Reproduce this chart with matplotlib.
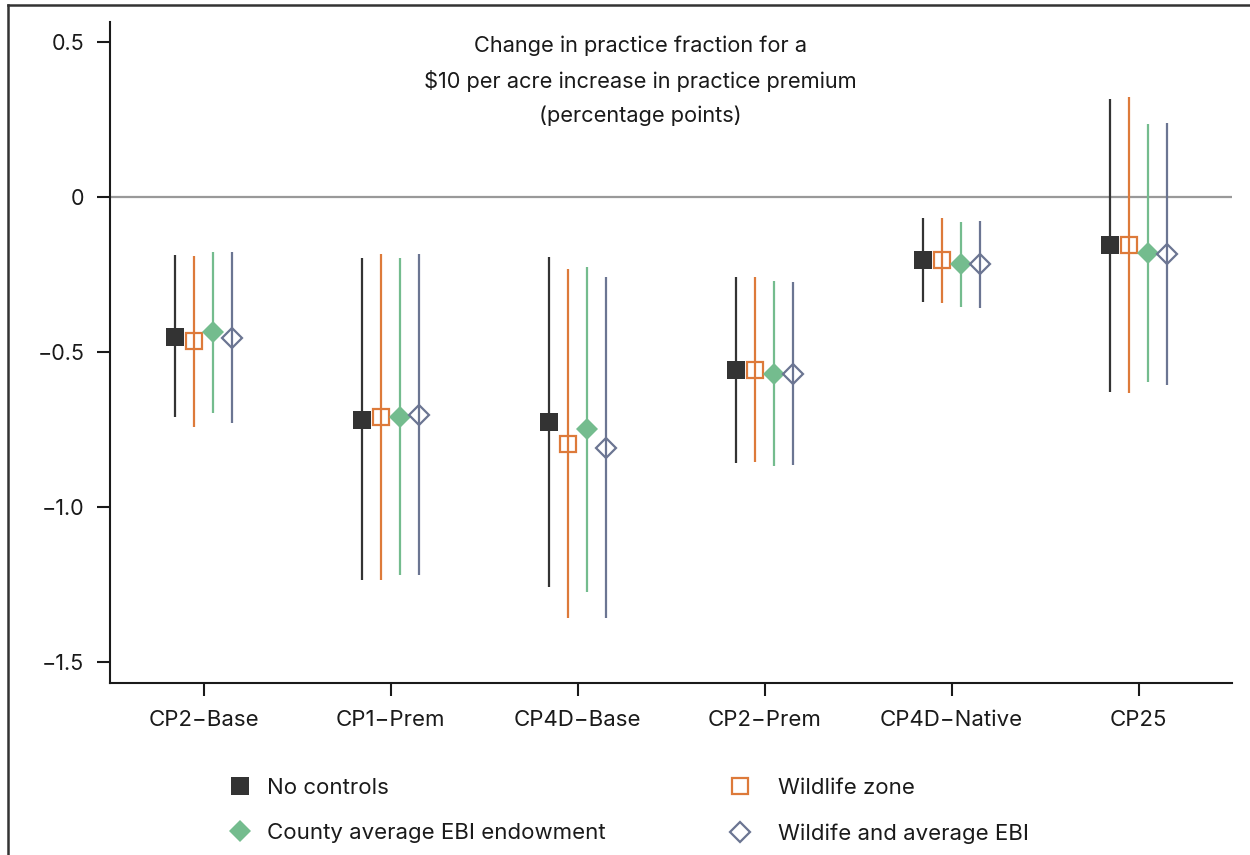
import matplotlib
matplotlib.use("Agg")
from matplotlib import pyplot as plt
from matplotlib.lines import Line2D
import numpy as np

plt.rcParams['font.family'] = ['Inter', 'DejaVu Sans']

categories = ["CP2\u2212Base", "CP1\u2212Prem", "CP4D\u2212Base", "CP2\u2212Prem", "CP4D\u2212Native", "CP25"]

# point estimates and interval ends per specification
no_ctrl_est = [-0.450, -0.719, -0.726, -0.558, -0.203, -0.155]
no_ctrl_lo = [-0.711, -1.235, -1.257, -0.859, -0.340, -0.629]
no_ctrl_hi = [-0.188, -0.197, -0.195, -0.257, -0.069, 0.317]

wild_est = [-0.466, -0.710, -0.797, -0.558, -0.203, -0.155]
wild_lo = [-0.742, -1.235, -1.359, -0.856, -0.343, -0.633]
wild_hi = [-0.190, -0.184, -0.233, -0.259, -0.066, 0.324]

county_est = [-0.437, -0.709, -0.750, -0.571, -0.217, -0.182]
county_lo = [-0.698, -1.221, -1.273, -0.868, -0.354, -0.597]
county_hi = [-0.177, -0.197, -0.227, -0.271, -0.082, 0.235]

both_est = [-0.454, -0.702, -0.810, -0.571, -0.217, -0.185]
both_lo = [-0.728, -1.221, -1.359, -0.866, -0.359, -0.607]
both_hi = [-0.177, -0.183, -0.258, -0.273, -0.076, 0.238]

y_ticks = [0.5, 0, -0.5, -1.0, -1.5]
y_ticklabels = ["0.5", "0", "\u22120.5", "\u22121.0", "\u22121.5"]

series = [
    # label, est, lo, hi, offset, marker, size, color, filled
    ("No controls", no_ctrl_est, no_ctrl_lo, no_ctrl_hi, -0.15, 's', 13, '#333333', True),
    ("Wildlife zone", wild_est, wild_lo, wild_hi, -0.05, 's', 11, '#DD7A3A', False),
    ("County average EBI endowment", county_est, county_lo, county_hi, 0.05, 'D', 11.5, '#74BC8E', True),
    ("Wildife and average EBI", both_est, both_lo, both_hi, 0.15, 'D', 10.5, '#6B7592', False),
]

fig = plt.figure(figsize=(12.5, 8.55), dpi=100)
ax = fig.add_axes([0.088, 0.2012, 0.8976, 0.7731])

x = np.arange(1, len(categories) + 1)
ax.axhline(0, color='#999999', lw=1.6, zorder=1)

handles = {}
for label, est, lo, hi, off, mk, ms, col, filled in series:
    est = np.array(est)
    yerr = [est - np.array(lo), np.array(hi) - est]
    ax.errorbar(x + off, est, yerr=yerr, fmt=mk, ms=ms, color=col, ecolor=col,
                elinewidth=1.6, capsize=0,
                mfc=col if filled else 'none', mec=col,
                mew=0 if filled else 1.6, zorder=3)
    handles[label] = Line2D([], [], ls='none', marker=mk, ms=ms, color=col,
                            mfc=col if filled else 'none', mec=col,
                            mew=0 if filled else 1.6)

ax.set_xlim(0.5, 6.5)
ax.set_ylim(-1.568, 0.565)
ax.set_xticks(x)
ax.set_xticklabels(categories, fontsize=16)
ax.set_yticks(y_ticks)
ax.set_yticklabels(y_ticklabels, fontsize=15.5)
ax.tick_params(axis='both', length=9.4, width=1.5, color='#1a1a1a', labelcolor='#1a1a1a')
ax.tick_params(axis='y', pad=9)
ax.tick_params(axis='x', pad=10)
for side in ['top', 'right']:
    ax.spines[side].set_visible(False)
for side in ['left', 'bottom']:
    ax.spines[side].set_linewidth(1.5)
    ax.spines[side].set_color('#1a1a1a')

fig.text(0.512, 0.958, "Change in practice fraction for a\n$10 per acre increase in practice premium\n(percentage points)",
         ha='center', va='top', fontsize=15.7, linespacing=1.78, color='#1a1a1a')

# two legend columns placed separately
col1 = ["No controls", "County average EBI endowment"]
col2 = ["Wildlife zone", "Wildife and average EBI"]
leg_y = 1 - 778 / 855
leg1 = fig.legend([handles[k] for k in col1], col1, loc='upper left',
                  bbox_to_anchor=(229 / 1250, leg_y), frameon=False, fontsize=16,
                  handlelength=1.0, handletextpad=0.72, labelspacing=1.13, borderpad=0,
                  borderaxespad=0)
leg2 = fig.legend([handles[k] for k in col2], col2, loc='upper left',
                  bbox_to_anchor=(729 / 1250, leg_y), frameon=False, fontsize=16,
                  handlelength=1.0, handletextpad=1.22, labelspacing=1.13, borderpad=0,
                  borderaxespad=0)
for leg in (leg1, leg2):
    for t in leg.get_texts():
        t.set_color('#1a1a1a')

# outer frame lines on left and top
fig.add_artist(Line2D([8 / 1250, 8 / 1250], [0, 1 - 5 / 855], transform=fig.transFigure,
                      color='#333333', lw=1.8))
fig.add_artist(Line2D([8 / 1250, 1], [1 - 5 / 855, 1 - 5 / 855], transform=fig.transFigure,
                      color='#333333', lw=1.8))

fig.savefig('out.png', dpi=100)
